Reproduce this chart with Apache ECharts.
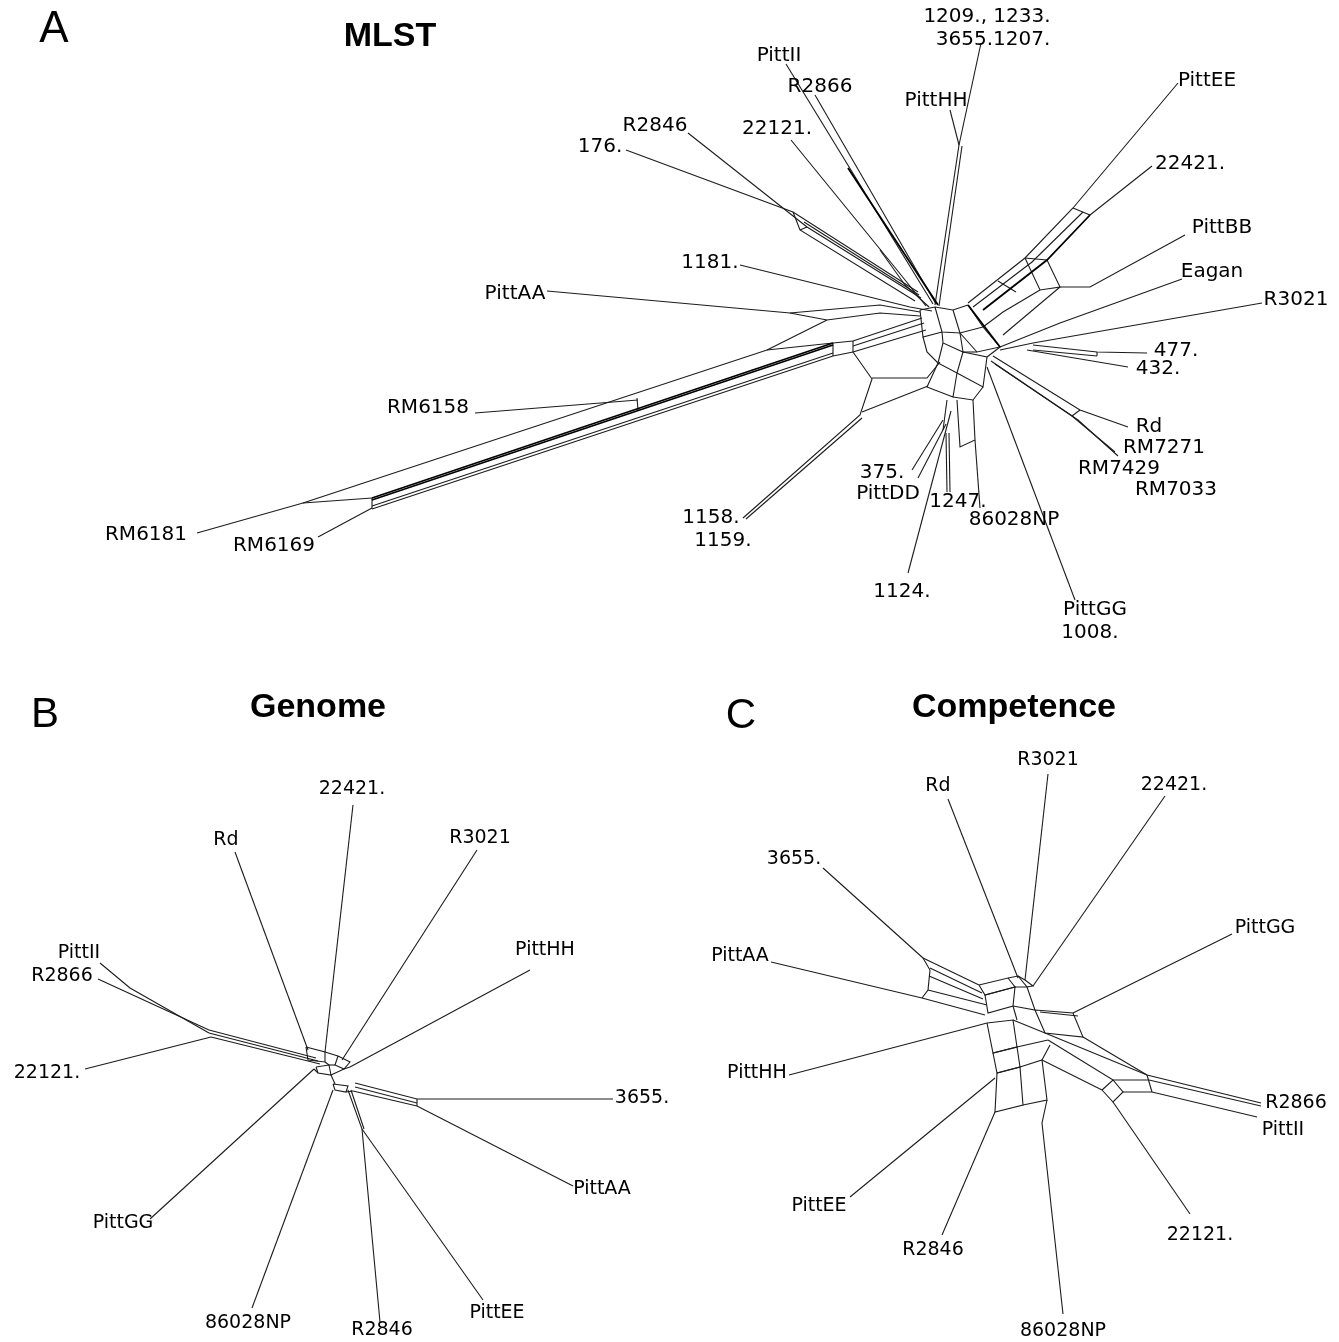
<!DOCTYPE html>
<html>
<head>
<meta charset="utf-8">
<script src="https://cdn.jsdelivr.net/npm/echarts@6/dist/echarts.min.js"></script>
<style>
html,body{margin:0;padding:0;background:#fff;}
#chart{width:1339px;height:1342px;}
</style>
</head>
<body>
<div id="chart"></div>
<script>
// ---------- Panel A : MLST split network (layout coordinates) ----------
const mlstTaxa = ["1209., 1233.","3655.1207.","PittII","R2866","PittHH","PittEE","R2846","176.","22121.","22421.","PittBB","Eagan","1181.","PittAA","R3021","477.","432.","RM6158","Rd","RM7271","RM7429","RM7033","375.","PittDD","1247.","86028NP","1158.","1159.","RM6181","RM6169","1124.","PittGG","1008."];
const mlstTaxaXY = [[987,17],[993,40],[779,56],[820,87],[936,101],[1207,81],[655,126],[600,147],[777,129],[1190,164],[1222,228],[1212,272],[710,263],[515,294],[1296,300],[1176,351],[1158,369],[428,408],[1149,427],[1164,448],[1119,469],[1176,490],[882,473],[888,494],[958,502],[1014,520],[711,518],[723,541],[146,535],[274,546],[902,592],[1095,610],[1090,633]];
const mlstEdges = [
  [[981,43],[959,145]],[[950,110],[959,145]],[[959,145],[935,305]],[[962,146],[939,306]],
  [[786,64],[933,304]],[[815,95],[936,304]],
  [[791,140],[897,270],[926,306]],[[880,250],[905,285],[929,307]],
  [[626,150],[793,212],[918,292]],[[688,133],[807,227],[921,298]],[[793,212],[800,230],[915,301]],[[800,230],[807,227]],
  [[804,222],[919,295]],
  [[740,265],[910,307],[932,311]],
  [[547,291],[790,313],[880,305],[920,312]],[[790,313],[827,320],[880,313],[920,316]],[[827,320],[767,350]],
  [[197,533],[303,503],[372,498]],[[303,503],[767,350],[833,343]],
  [[318,537],[372,508]],
  [[475,413],[638,400]],
  [[372,506],[833,353]],[[372,509],[833,356]],[[372,498],[372,509]],[[637,398],[638,410]],
  [[833,343],[833,356]],[[833,343],[853,341]],[[833,356],[853,352]],[[853,341],[853,352]],
  [[853,341],[922,318]],[[853,346],[924,323]],[[853,352],[926,330]],
  [[743,518],[860,415],[872,379],[853,352]],[[746,519],[862,418]],
  [[872,378],[927,378],[940,362]],[[862,412],[928,386]],
  [[920,310],[935,307],[953,310],[968,305]],
  [[935,307],[942,332],[960,333],[953,310]],[[960,333],[983,327],[968,305]],
  [[983,327],[1000,347],[977,352],[960,333]],
  [[942,332],[943,343],[963,352],[960,333]],[[963,352],[977,352]],
  [[943,343],[938,363],[957,373],[963,352]],[[963,352],[987,357],[983,387],[957,373]],
  [[938,363],[927,387],[953,397],[957,373]],[[983,387],[973,400],[953,397]],
  [[920,310],[923,337],[942,332]],[[923,337],[927,352],[938,363]],[[987,357],[1000,347]],
  [[947,400],[943,430]],[[957,400],[960,447],[975,440],[973,400]],
  [[912,470],[943,420]],[[918,478],[946,424]],
  [[908,573],[951,411]],
  [[947,492],[946,433]],[[950,492],[949,433]],
  [[980,508],[975,440]],
  [[1075,600],[987,367]],
  [[1178,83],[1073,208],[1025,258],[968,303]],
  [[1083,212],[1032,262],[973,307]],
  [[1152,166],[1090,215]],[[1073,208],[1090,215]],[[1025,258],[1047,260]],
  [[1047,260],[1060,287],[1040,290],[1025,258]],
  [[998,281],[1016,292]],
  [[1060,287],[1090,287],[1185,235]],[[1060,287],[1003,335]],[[1040,290],[1003,312],[983,327]],
  [[1182,279],[1060,323],[1000,347]],
  [[1262,303],[1033,343],[1000,350]],
  [[1147,353],[1097,352],[1033,345]],[[1097,356],[1033,350]],[[1097,352],[1097,356]],
  [[1128,367],[1027,350]],
  [[1128,427],[1080,410],[993,356]],[[1115,452],[1072,416],[991,361]],[[1118,456],[1078,420],[995,364]],[[1072,416],[1080,410]]
];
const mlstHeavyEdges = [
  [[848,168],[938,305]],
  [[372,498],[833,343]],[[372,500],[833,345]],
  [[1090,215],[1047,260],[983,310]],
  [[968,305],[1000,347]]
];

// ---------- Panel B : Genome ----------
const genomeTaxa = ["22421.","Rd","R3021","PittHH","PittII","R2866","22121.","3655.","PittAA","PittGG","86028NP","R2846","PittEE"];
const genomeTaxaXY = [[352,789],[226,840],[480,838],[545,950],[79,953],[62,976],[47,1073],[642,1098],[602,1189],[123,1223],[248,1323],[382,1330],[497,1313]];
const genomeEdges = [
  [[353,805],[325,1052]],[[235,852],[308,1050]],[[477,850],[342,1060]],[[530,970],[350,1067]],
  [[100,963],[130,988],[209,1033]],[[98,979],[209,1030]],
  [[209,1030],[316,1058]],[[209,1033],[318,1061]],[[211,1037],[320,1064]],
  [[85,1069],[211,1037]],
  [[613,1099],[417,1099],[355,1083]],[[417,1103],[355,1087]],[[417,1106],[353,1091]],[[417,1099],[417,1106]],
  [[573,1186],[417,1106]],
  [[150,1219],[314,1069]],
  [[252,1308],[333,1090]],
  [[380,1322],[362,1129],[348,1090]],[[364,1129],[351,1090]],[[483,1300],[362,1129]],
  [[306,1047],[325,1052],[325,1062],[308,1060],[306,1047]],
  [[316,1067],[329,1065],[331,1075],[318,1073],[316,1067]],
  [[333,1084],[348,1086],[346,1092],[335,1090],[333,1084]],
  [[338,1056],[350,1062],[344,1069],[335,1065],[338,1056]],
  [[325,1062],[329,1065]],[[331,1075],[335,1084]],[[344,1069],[350,1067]],[[325,1052],[338,1056]],
  [[318,1073],[314,1069]],[[346,1092],[353,1091]],[[335,1065],[329,1065]],[[331,1075],[344,1069]]
];

// ---------- Panel C : Competence ----------
const competenceTaxa = ["R3021","Rd","22421.","3655.","PittGG","PittAA","PittHH","R2866","PittII","PittEE","22121.","R2846","86028NP"];
const competenceTaxaXY = [[1048,760],[938,786],[1174,785],[794,859],[1265,928],[740,956],[757,1073],[1296,1103],[1283,1130],[819,1206],[1200,1235],[933,1250],[1063,1331]];
const competenceEdges = [
  [[1048,774],[1025,980]],[[948,799],[1018,978]],[[1165,796],[1033,986]],
  [[823,868],[923,958]],[[771,962],[922,998]],[[1232,934],[1073,1013]],[[789,1075],[972,1027],[987,1023]],
  [[1190,1214],[1113,1102]],[[850,1197],[995,1078]],[[942,1235],[995,1112]],[[1063,1314],[1042,1123],[1047,1100]],
  [[923,958],[930,970],[928,990],[922,998]],
  [[923,958],[979,985]],[[930,968],[982,993]],[[929,976],[983,999]],[[928,990],[987,1005]],[[922,998],[985,1015]],
  [[979,985],[1008,978],[1015,987],[985,995],[979,985]],
  [[985,995],[1015,987],[1013,1006],[988,1013],[985,995]],
  [[1008,978],[1018,976],[1027,987],[1015,987]],
  [[1018,976],[1025,980],[1033,986],[1027,987]],
  [[1027,987],[1035,1010],[1013,1006]],
  [[1035,1010],[1073,1013],[1083,1037],[1045,1033],[1035,1010]],
  [[1040,1012],[1078,1016]],
  [[1013,1006],[1017,1020]],
  [[987,1023],[1013,1020],[1017,1047],[993,1053],[987,1023]],
  [[993,1053],[1017,1047],[1020,1067],[997,1073],[993,1053]],
  [[997,1073],[1020,1067],[1023,1105],[995,1112],[997,1073]],
  [[1020,1067],[1042,1060],[1047,1100],[1023,1105]],
  [[1013,1020],[1045,1033]],[[1017,1047],[1048,1040]],[[1042,1060],[1050,1045]],
  [[1045,1033],[1147,1075],[1261,1103]],
  [[1048,1040],[1113,1080],[1149,1080],[1261,1106]],
  [[1042,1060],[1102,1090]],
  [[1102,1090],[1113,1080],[1123,1092],[1113,1102],[1102,1090]],
  [[1123,1092],[1152,1092],[1257,1117]],[[1147,1075],[1152,1092]],
  [[1083,1037],[1147,1075]]
];

const allEdges = mlstEdges.concat(genomeEdges, competenceEdges);
const taxaPoints = []
  .concat(mlstTaxa.map((n,i)=>[mlstTaxaXY[i][0],mlstTaxaXY[i][1],n,'A']))
  .concat(genomeTaxa.map((n,i)=>[genomeTaxaXY[i][0],genomeTaxaXY[i][1],n,'B']))
  .concat(competenceTaxa.map((n,i)=>[competenceTaxaXY[i][0],competenceTaxaXY[i][1],n,'C']));

const chart = echarts.init(document.getElementById('chart'), null, {renderer:'canvas'});
const labelFont = '"DejaVu Sans", Verdana, sans-serif';
chart.setOption({
  animation:false,
  backgroundColor:'#ffffff',
  grid:{left:0,right:0,top:0,bottom:0,containLabel:false},
  xAxis:{type:'value',min:0,max:1339,show:false},
  yAxis:{type:'value',min:0,max:1342,inverse:true,show:false},
  graphic:[
    {type:'text',x:54,y:30,style:{text:'A',font:'44px "Liberation Sans", Arial, sans-serif',fill:'#000',align:'center',verticalAlign:'middle'}},
    {type:'text',x:390,y:37,style:{text:'MLST',font:'bold 34px "Liberation Sans", Arial, sans-serif',fill:'#000',align:'center',verticalAlign:'middle'}},
    {type:'text',x:45,y:715,style:{text:'B',font:'42px "Liberation Sans", Arial, sans-serif',fill:'#000',align:'center',verticalAlign:'middle'}},
    {type:'text',x:318,y:708,style:{text:'Genome',font:'bold 34px "Liberation Sans", Arial, sans-serif',fill:'#000',align:'center',verticalAlign:'middle'}},
    {type:'text',x:741,y:716,style:{text:'C',font:'42px "Liberation Sans", Arial, sans-serif',fill:'#000',align:'center',verticalAlign:'middle'}},
    {type:'text',x:1014,y:708,style:{text:'Competence',font:'bold 34px "Liberation Sans", Arial, sans-serif',fill:'#000',align:'center',verticalAlign:'middle'}}
  ],
  series:[
    {type:'lines',coordinateSystem:'cartesian2d',polyline:true,silent:true,
     lineStyle:{color:'#1c1c1c',width:1.1,opacity:1},
     data:allEdges.map(c=>({coords:c}))},
    {type:'lines',coordinateSystem:'cartesian2d',polyline:true,silent:true,
     lineStyle:{color:'#000',width:1.8,opacity:1},
     data:mlstHeavyEdges.map(c=>({coords:c}))},
    {type:'scatter',symbolSize:0.01,silent:true,
     data:taxaPoints.map(p=>({value:[p[0],p[1]],name:p[2],
        label:{fontSize:p[3]==='A'?20:19}})),
     label:{show:true,position:'inside',formatter:'{b}',color:'#000',
        textBorderWidth:0,fontFamily:labelFont,align:'center',verticalAlign:'middle'},
     itemStyle:{opacity:1}}
  ]
});
</script>
</body>
</html>
